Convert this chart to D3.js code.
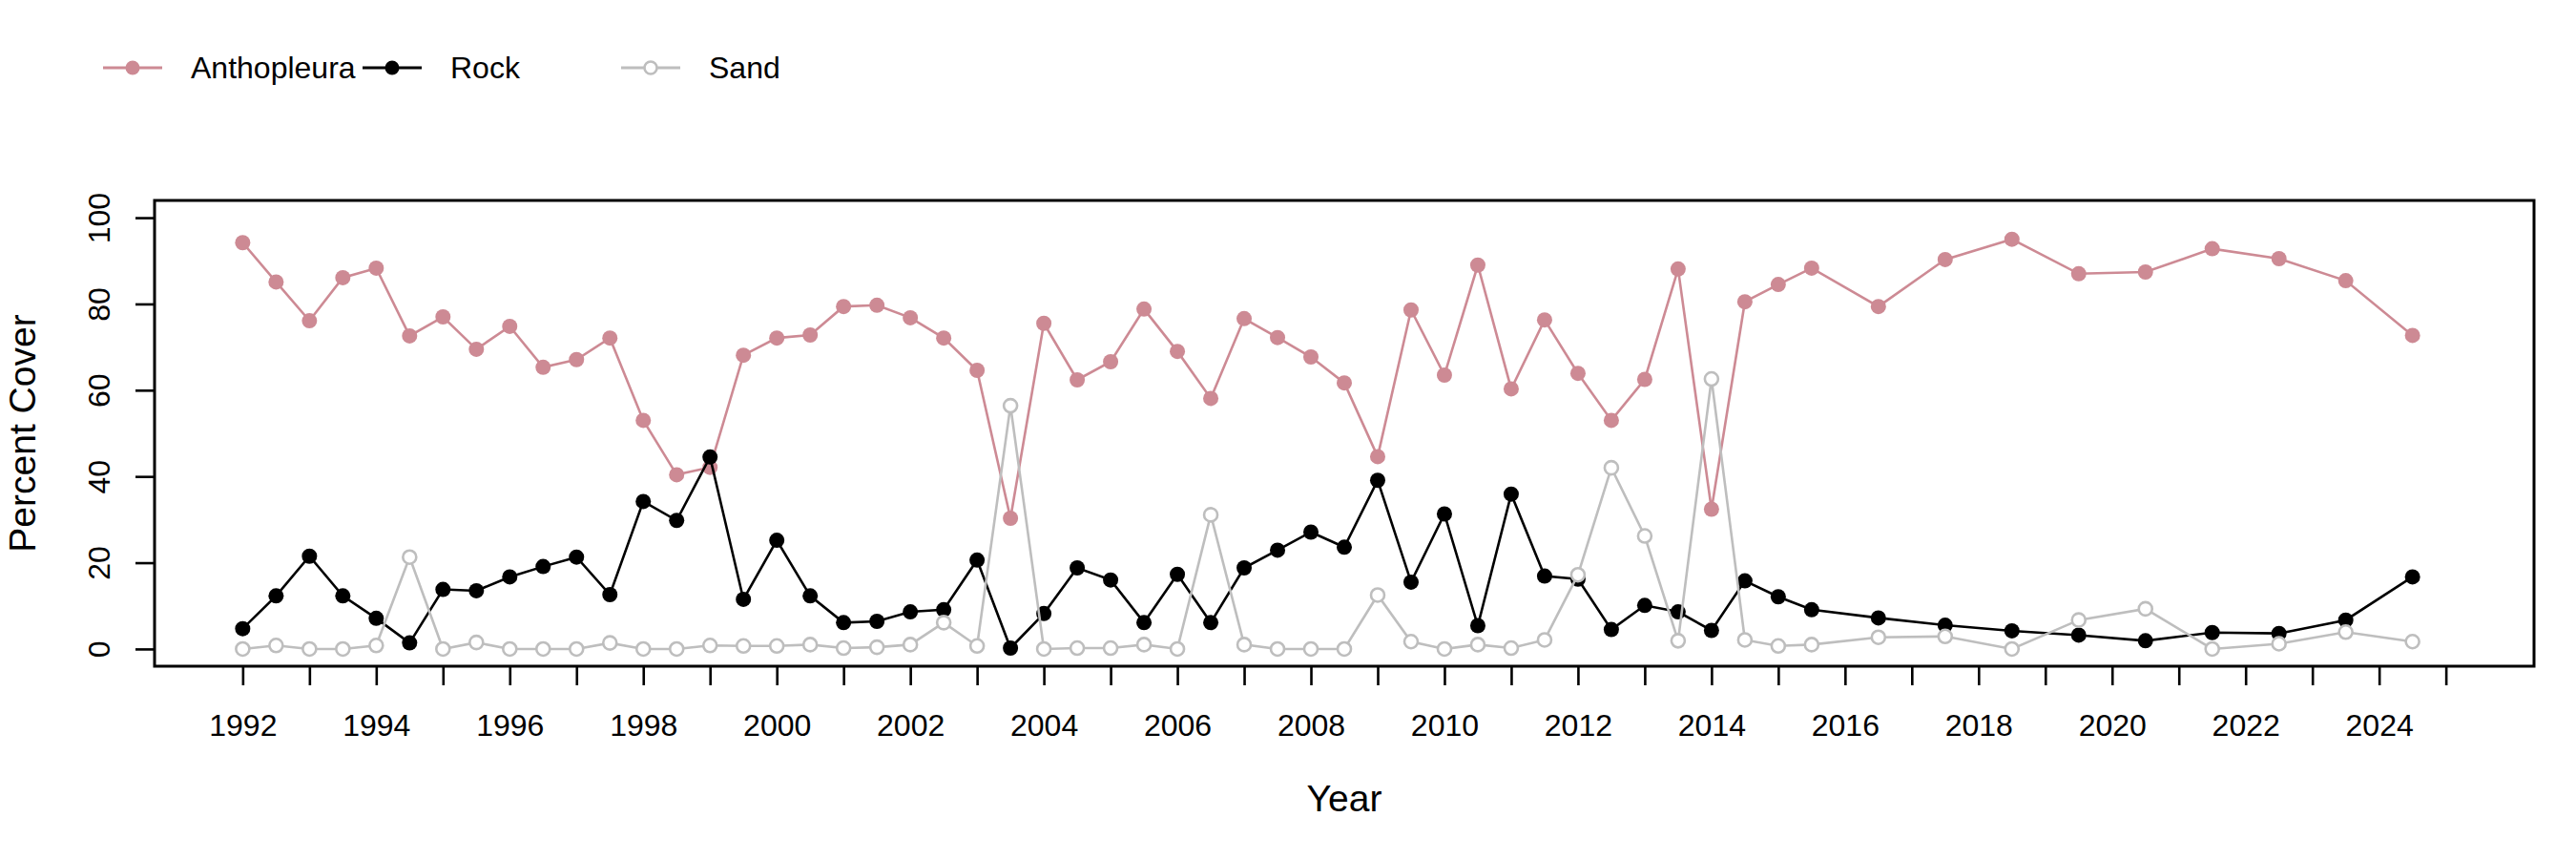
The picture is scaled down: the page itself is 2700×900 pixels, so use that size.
<!DOCTYPE html>
<html>
<head>
<meta charset="utf-8">
<script src="https://cdn.jsdelivr.net/npm/d3@7"></script>
<style>
  html, body { margin: 0; padding: 0; background: #fff; }
  svg { display: block; font-family: "Liberation Sans", Arial, sans-serif; }
</style>
</head>
<body>
<svg id="chart" width="2700" height="900"></svg>
<script>
// ---- data ----
const years = [
  1992, 1992.5, 1993, 1993.5, 1994, 1994.5, 1995, 1995.5, 1996, 1996.5,
  1997, 1997.5, 1998, 1998.5, 1999, 1999.5, 2000, 2000.5, 2001, 2001.5,
  2002, 2002.5, 2003, 2003.5, 2004, 2004.5, 2005, 2005.5, 2006, 2006.5,
  2007, 2007.5, 2008, 2008.5, 2009, 2009.5, 2010, 2010.5, 2011, 2011.5,
  2012, 2012.5, 2013, 2013.5, 2014, 2014.5, 2015, 2015.5, 2016.5, 2017.5,
  2018.5, 2019.5, 2020.5, 2021.5, 2022.5, 2023.5, 2024.5
];
const anthopleura = [
  94.2, 85.1, 76.1, 86.1, 88.3, 72.6, 77.0, 69.5, 74.8, 65.3,
  67.1, 72.1, 53.0, 40.4, 42.1, 68.1, 72.1, 72.8, 79.4, 79.7,
  76.8, 72.1, 64.6, 30.3, 75.5, 62.4, 66.6, 78.8, 69.0, 58.1,
  76.6, 72.2, 67.7, 61.7, 44.6, 78.6, 63.5, 89.0, 60.3, 76.3,
  63.9, 53.0, 62.5, 88.1, 32.4, 80.5, 84.5, 88.3, 79.4, 90.3,
  95.0, 87.0, 87.4, 92.8, 90.5, 85.4, 72.7
];
const rock = [
  4.7, 12.3, 21.5, 12.3, 7.1, 1.4, 13.8, 13.5, 16.7, 19.1,
  21.3, 12.6, 34.2, 29.8, 44.5, 11.5, 25.2, 12.3, 6.1, 6.4,
  8.6, 9.1, 20.6, 0.2, 8.2, 18.8, 16.0, 6.1, 17.3, 6.1,
  18.8, 22.9, 27.1, 23.6, 39.1, 15.5, 31.3, 5.4, 35.9, 16.9,
  16.2, 4.5, 10.1, 8.6, 4.3, 15.8, 12.1, 9.1, 7.2, 5.5,
  4.2, 3.2, 1.9, 3.8, 3.6, 6.7, 16.7
];
const sand = [
  0, 0.8, 0, 0, 0.8, 21.3, 0, 1.5, 0, 0,
  0, 1.4, 0, 0, 0.8, 0.7, 0.7, 1.0, 0.2, 0.4,
  1.0, 6.1, 0.7, 56.4, 0, 0.2, 0.2, 1.0, 0, 31.1,
  1.0, 0, 0, 0, 12.5, 1.7, 0, 1.0, 0.2, 2.1,
  17.2, 42.0, 26.2, 1.9, 62.6, 2.1, 0.7, 1.0, 2.7, 2.9,
  0, 6.7, 9.3, 0, 1.2, 3.9, 1.7
];
const seriesNames = ["Anthopleura", "Rock", "Sand"];
const xTickValues = d3.range(1992, 2026);          // tick marks every year
const xLabelValues = d3.range(1992, 2025, 2);      // labels every other year
const yTickValues = [0, 20, 40, 60, 80, 100];

// ---- styling ----
const colors = { Anthopleura: "#CD8A94", Rock: "#000000", Sand: "#BEBEBE" };
const filled = { Anthopleura: true, Rock: true, Sand: false };

const svg = d3.select("#chart");
const box = { left: 162, right: 2656, top: 210, bottom: 698 };

const x = d3.scaleLinear().domain([1990.68, 2026.32]).range([box.left, box.right]);
const y = d3.scaleLinear().domain([-4, 104]).range([box.bottom, box.top]);

// ---- axes ----
const xAxis = d3.axisBottom(x)
  .tickValues(xTickValues)
  .tickSize(20)
  .tickPadding(0)
  .tickFormat(d => xLabelValues.includes(d) ? String(d) : "");
const gx = svg.append("g").attr("transform", `translate(0,${box.bottom})`).call(xAxis);
gx.select(".domain").remove();
gx.selectAll(".tick line").attr("stroke", "#000").attr("stroke-width", 2.6);
gx.selectAll(".tick text")
  .attr("y", 73).attr("dy", null)
  .attr("font-size", 32).attr("fill", "#000")
  .attr("font-family", "Liberation Sans, Arial, sans-serif");

const yAxis = d3.axisLeft(y).tickValues(yTickValues).tickSize(20).tickFormat(d3.format("d"));
const gy = svg.append("g").attr("transform", `translate(${box.left},0)`).call(yAxis);
gy.select(".domain").remove();
gy.selectAll(".tick line").attr("stroke", "#000").attr("stroke-width", 2.6);
gy.selectAll(".tick text")
  .attr("x", null).attr("dy", null)
  .attr("text-anchor", "middle")
  .attr("transform", "translate(-47,0) rotate(-90)")
  .attr("font-size", 32).attr("fill", "#000")
  .attr("font-family", "Liberation Sans, Arial, sans-serif");

// ---- box ----
svg.append("rect")
  .attr("x", box.left).attr("y", box.top)
  .attr("width", box.right - box.left).attr("height", box.bottom - box.top)
  .attr("fill", "none").attr("stroke", "#000").attr("stroke-width", 3);

// ---- axis titles ----
svg.append("text")
  .attr("x", (box.left + box.right) / 2).attr("y", 850)
  .attr("text-anchor", "middle").attr("font-size", 39).text("Year");
svg.append("text")
  .attr("transform", `translate(37,${(box.top + box.bottom) / 2}) rotate(-90)`)
  .attr("text-anchor", "middle").attr("font-size", 39).text("Percent Cover");

// ---- series ----
const seriesData = {
  Anthopleura: years.map((yr, i) => ({ yr, v: anthopleura[i] })),
  Rock: years.map((yr, i) => ({ yr, v: rock[i] })),
  Sand: years.map((yr, i) => ({ yr, v: sand[i] }))
};
const line = d3.line().x(d => x(d.yr)).y(d => y(d.v));

seriesNames.forEach(name => {
  const g = svg.append("g");
  g.append("path")
    .datum(seriesData[name])
    .attr("d", line)
    .attr("fill", "none")
    .attr("stroke", colors[name])
    .attr("stroke-width", 2.6);
  g.selectAll("circle")
    .data(seriesData[name])
    .join("circle")
    .attr("cx", d => x(d.yr))
    .attr("cy", d => y(d.v))
    .attr("r", filled[name] ? 8 : 7)
    .attr("fill", filled[name] ? colors[name] : "#fff")
    .attr("stroke", colors[name])
    .attr("stroke-width", filled[name] ? 0 : 2.6);
});

// ---- legend ----
const legendStarts = [108, 380, 651];
const legendY = 71;
seriesNames.forEach((name, i) => {
  const x0 = legendStarts[i];
  const g = svg.append("g");
  g.append("line")
    .attr("x1", x0).attr("x2", x0 + 62)
    .attr("y1", legendY).attr("y2", legendY)
    .attr("stroke", colors[name]).attr("stroke-width", 3.2);
  g.append("circle")
    .attr("cx", x0 + 31).attr("cy", legendY)
    .attr("r", filled[name] ? 7.5 : 6.5)
    .attr("fill", filled[name] ? colors[name] : "#fff")
    .attr("stroke", colors[name])
    .attr("stroke-width", filled[name] ? 0 : 2.6);
  g.append("text")
    .attr("x", x0 + 92).attr("y", legendY + 11)
    .attr("font-size", 32).attr("fill", "#000")
    .text(name);
});
</script>
</body>
</html>
